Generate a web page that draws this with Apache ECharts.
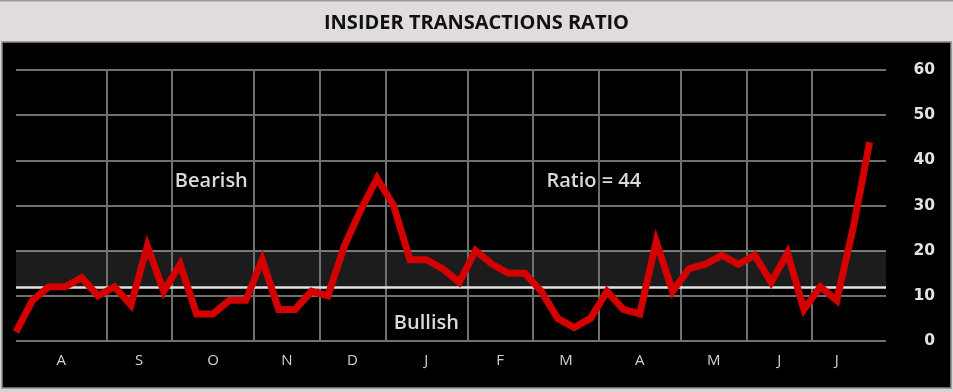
<!DOCTYPE html>
<html><head><meta charset="utf-8">
<script src="https://cdn.jsdelivr.net/npm/echarts@6/dist/echarts.min.js"></script>
<style>html,body{margin:0;padding:0;background:#d4d4d4;}#c{width:953px;height:392px;}</style>
</head><body><div id="c"></div>
<script>
// ---- data ----
const ratio = [2, 9, 12, 12, 14, 10, 12, 8, 21, 11, 17, 6, 6, 9, 9, 18, 7, 7, 11, 10,
  21, 29, 36, 30, 18, 18, 16, 13, 20, 17, 15, 15, 11, 5, 3, 5, 11, 7, 6, 22,
  11, 16, 17, 19, 17, 19, 13, 19.5, 7, 12, 9, 25, 44];
const axisWeeks = 53;                 // x axis spans week 0 .. 53
const monthLabels = ['A','S','O','N','D','J','F','M','A','M','J','J'];
const monthEdges = [0, 5.5, 9.5, 14.5, 18.5, 22.5, 27.5, 31.5, 35.5, 40.5, 44.5, 48.5, 51.5];
const yMin = 0, yMax = 60, yStep = 10;
const neutralLevel = 12;
const bandRange = [12, 20];
const notes = [
  { text: 'Bearish', x: 11.9, y: 35.4 },
  { text: 'Ratio = 44', x: 35.2, y: 35.4 },
  { text: 'Bullish', x: 25, y: 4 }
];
const titleText = 'INSIDER TRANSACTIONS RATIO';

// ---- chart ----
const monthCenters = monthLabels.map((m, i) => (monthEdges[i] + monthEdges[i + 1]) / 2);
const chart = echarts.init(document.getElementById('c'), null, { renderer: 'canvas' });

chart.setOption({
  animation: false,
  backgroundColor: '#d4d4d4',
  title: {
    text: titleText, left: 'center', top: 8,
    textStyle: { fontFamily: 'Open Sans', fontSize: 20, fontWeight: 700, color: '#111111' }
  },
  graphic: [
    { type: 'rect', z: -20, shape: { x: 0, y: 0, width: 953, height: 43 }, style: { fill: '#e0dcdc' } },
    { type: 'rect', z: -19, shape: { x: 0, y: 0, width: 953, height: 1.5 }, style: { fill: '#9a9a9a' } },
    { type: 'rect', z: -18, shape: { x: 2, y: 42, width: 949, height: 346 }, style: { fill: '#000', stroke: '#8a8a8a', lineWidth: 1.5 } }
  ],
  grid: { left: 16, right: 67, top: 70, bottom: 51 },
  xAxis: {
    type: 'value', min: 0, max: axisWeeks,
    axisLine: { show: false }, axisTick: { show: false }, splitLine: { show: false },
    axisLabel: {
      customValues: monthCenters,
      margin: 12,
      color: '#d2d2d2', fontFamily: 'Open Sans', fontSize: 15,
      formatter: function (v) {
        let best = 0;
        monthCenters.forEach((c, i) => { if (Math.abs(c - v) < Math.abs(monthCenters[best] - v)) best = i; });
        return monthLabels[best];
      }
    }
  },
  yAxis: {
    type: 'value', position: 'right', min: yMin, max: yMax, interval: yStep,
    axisLine: { show: false }, axisTick: { show: false },
    splitLine: { lineStyle: { color: '#707070', width: 2 } },
    axisLabel: { align: 'right', margin: 49, color: '#e2e2e2', fontFamily: 'DejaVu Sans', fontWeight: 'bold', fontSize: 15.5 }
  },
  series: [
    {
      type: 'line', data: [], z: 1, silent: true,
      markArea: {
        silent: true,
        itemStyle: { color: 'rgba(255,255,255,0.11)' },
        data: [[{ yAxis: bandRange[0] }, { yAxis: bandRange[1] }]]
      },
      markLine: {
        silent: true, symbol: ['none', 'none'], label: { show: false },
        lineStyle: { color: '#707070', width: 2, type: 'solid' },
        data: monthEdges.slice(1, -1).map(e => ({ xAxis: e })).concat([
          { yAxis: neutralLevel, lineStyle: { color: '#e2e2e2', width: 2.5, type: 'solid' } }
        ])
      }
    },
    {
      type: 'line', z: 5, silent: true,
      data: ratio.map((v, i) => [i, v]),
      symbol: 'none',
      lineStyle: { color: '#d40000', width: 7, join: 'miter', miterLimit: 4 },
      markPoint: {
        silent: true, symbol: 'circle', symbolSize: 0,
        label: { show: true, position: 'inside', color: '#dadada', fontFamily: 'Open Sans', fontWeight: 600, fontSize: 20, formatter: p => p.name },
        data: notes.map(n => ({ name: n.text, coord: [n.x, n.y] }))
      }
    }
  ]
});
</script></body></html>
